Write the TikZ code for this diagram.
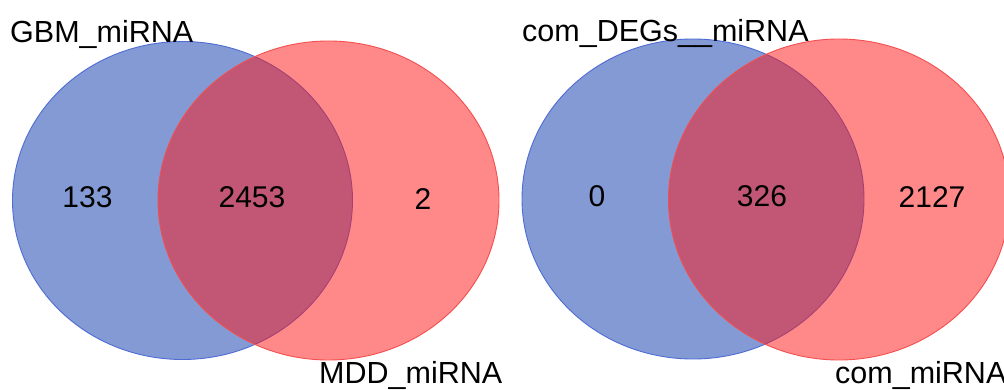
\documentclass[tikz,border=0pt]{standalone}
\usepackage{fontspec}
\setmainfont{Liberation Sans}
\begin{document}
\definecolor{setblue}{RGB}{9,55,173}
\definecolor{setred}{RGB}{255,21,21}
\definecolor{edgeblue}{RGB}{78,108,212}
\definecolor{edgered}{RGB}{244,78,78}
\begin{tikzpicture}[x=1pt,y=-1pt,
  bluesetshape/.style={fill=setblue,fill opacity=0.5,draw=edgeblue,line width=0.9pt},
  redsetshape/.style={fill=setred,fill opacity=0.5,draw=edgered,line width=0.9pt},
  countlabel/.style={font=\fontsize{30}{36}\selectfont,inner sep=0pt,anchor=center},
  setname/.style={font=\fontsize{30.5}{36}\selectfont,inner sep=0pt,anchor=base west}]
\fill[white] (0,0) rectangle (1004,390);
\useasboundingbox (0,0) rectangle (1004,390);
% first diagram: GBM vs MDD
\draw[bluesetshape] (182.5,200.5) ellipse [x radius=170,y radius=159];
\draw[redsetshape] (328.5,200.5) ellipse [x radius=170.5,y radius=159.5];
\node[countlabel] (gbmonly) at (87.5,197) {133};
\node[countlabel] (gbmmdd) at (252,197) {2453};
\node[countlabel] (mddonly) at (423,199.5) {2};
\node[setname] (gbmname) at (10,43) {GBM\_miRNA};
\node[setname] (mddname) at (319,383) {MDD\_miRNA};
% second diagram: com_DEGs__miRNA vs com_miRNA
\draw[bluesetshape] (693,199) ellipse [x radius=171,y radius=160];
\draw[redsetshape] (839,199.5) ellipse [x radius=170.5,y radius=160.5];
\node[countlabel] (degonly) at (597,196) {0};
\node[countlabel] (degcom) at (762,196) {326};
\node[countlabel] (comonly) at (932,197.5) {2127};
\node[setname] (degname) at (522,42) {com\_DEGs\_\_miRNA};
\node[setname] (comname) at (835,383) {com\_miRNA};
\end{tikzpicture}
\end{document}
